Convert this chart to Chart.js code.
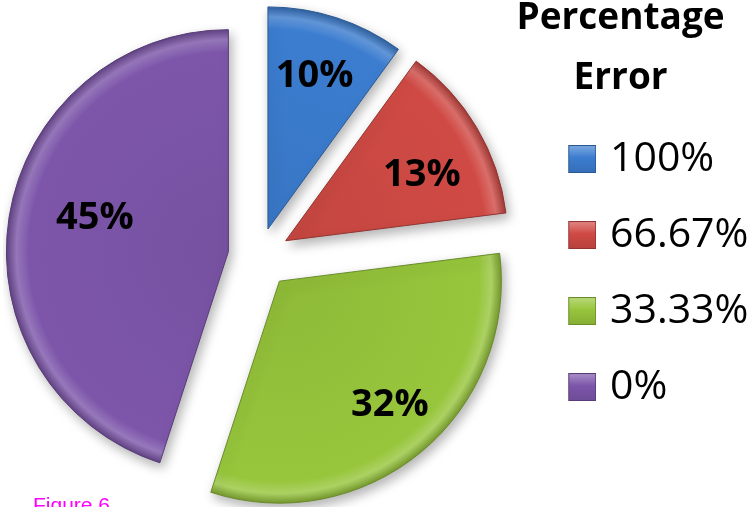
<!DOCTYPE html>
<html><head><meta charset="utf-8">
<script src="https://cdn.jsdelivr.net/npm/chart.js@4"></script>
<style>
html,body{margin:0;padding:0;background:#fff;overflow:hidden;}
#wrap{position:relative;width:755px;height:507px;overflow:hidden;background:#fff;}
#c{position:absolute;left:3px;top:0;}
</style>
</head><body><div id="wrap"><canvas id="c" width="752" height="513" style="width:752px;height:513px;"></canvas></div>
<script>
// ---- data ----
const categories = ['100%', '66.67%', '33.33%', '0%'];
const shares = [10, 13, 32, 45];
const sliceLabels = ['10%', '13%', '32%', '45%'];
const legendTitle = ['Percentage   ', 'Error   '];
const caption = 'Figure 6';

// ---- styles ----
const baseColors = ['#3c7dd0', '#d04a45', '#97c63c', '#7d56aa'];
const explode = [29, 31, 32, 31];
const labelRadiusFrac = [0.72, 0.68, 0.75, 0.62];
const labelAngleShift = [-1, 5, -2, 5];
const pieRadius = 222;

function hexToRgb(h) { const n = parseInt(h.slice(1), 16); return [(n >> 16) & 255, (n >> 8) & 255, n & 255]; }
function mix(h, target, t) {
  const c = hexToRgb(h);
  const r = c.map(v => Math.round(v + (target - v) * t));
  return `rgb(${r[0]},${r[1]},${r[2]})`;
}

function sliceFill(context) {
  const i = context.dataIndex;
  const area = context.chart.chartArea;
  const base = baseColors[i];
  if (!area) return base;
  const cx = (area.left + area.right) / 2, cy = (area.top + area.bottom) / 2;
  const g = context.chart.ctx.createRadialGradient(cx, cy, 0, cx, cy, pieRadius);
  g.addColorStop(0, mix(base, 0, 0.06));
  g.addColorStop(0.9, base);
  g.addColorStop(0.955, mix(base, 255, 0.2));
  g.addColorStop(1, mix(base, 0, 0.22));
  return g;
}

// bevelled legend marker (square sits at the right side of the marker canvas)
function legendMarker(base) {
  const cv = document.createElement('canvas');
  cv.width = 53; cv.height = 28;
  const c = cv.getContext('2d');
  const x0 = 25, s = 28;
  const g = c.createLinearGradient(0, 0, 0, s);
  g.addColorStop(0, mix(base, 255, 0.35));
  g.addColorStop(0.45, base);
  g.addColorStop(1, mix(base, 0, 0.12));
  c.fillStyle = g;
  c.fillRect(x0, 0, s, s);
  c.strokeStyle = mix(base, 0, 0.3);
  c.lineWidth = 1;
  c.strokeRect(x0 + 0.5, 0.5, s - 1, s - 1);
  return cv;
}

const explodePlugin = {
  id: 'explode',
  beforeDatasetsDraw(chart) {
    const meta = chart.getDatasetMeta(0);
    meta.data.forEach((arc, i) => {
      if (arc._exploded) return;
      arc._exploded = true;
      const orig = arc.draw;
      arc.draw = function (ctx) {
        const h = (this.startAngle + this.endAngle) / 2;
        const d = explode[i];
        ctx.save();
        ctx.translate(Math.cos(h) * d, Math.sin(h) * d);
        ctx.shadowColor = 'rgba(0,0,0,0.3)';
        ctx.shadowBlur = 12;
        ctx.shadowOffsetX = 3;
        ctx.shadowOffsetY = 5;
        orig.call(this, ctx);
        ctx.restore();
      };
    });
  },
  afterDatasetsDraw(chart) {
    const ctx = chart.ctx;
    const meta = chart.getDatasetMeta(0);
    ctx.save();
    ctx.font = 'bold 38px "Open Sans"';
    ctx.fillStyle = '#000';
    ctx.textAlign = 'center';
    ctx.textBaseline = 'middle';
    meta.data.forEach((arc, i) => {
      const h = (arc.startAngle + arc.endAngle) / 2;
      const hl = h + labelAngleShift[i] * Math.PI / 180;
      const ax = arc.x + Math.cos(h) * explode[i];
      const ay = arc.y + Math.sin(h) * explode[i];
      const r = arc.outerRadius * labelRadiusFrac[i];
      ctx.fillText(sliceLabels[i], ax + Math.cos(hl) * r, ay + Math.sin(hl) * r);
    });
    ctx.restore();
  },
  afterDraw(chart) {
    const ctx = chart.ctx;
    ctx.save();
    ctx.font = '21px "Liberation Sans"';
    ctx.fillStyle = '#ff00ff';
    ctx.textAlign = 'left';
    ctx.textBaseline = 'alphabetic';
    ctx.fillText(caption, 30, 512);
    ctx.restore();
  }
};

new Chart(document.getElementById('c'), {
  type: 'pie',
  data: {
    labels: categories,
    datasets: [{
      data: shares,
      backgroundColor: sliceFill,
      borderColor: baseColors.map(c => mix(c, 0, 0.3)),
      borderWidth: 1,
      radius: pieRadius
    }]
  },
  options: {
    responsive: false,
    maintainAspectRatio: false,
    devicePixelRatio: 1,
    animation: false,
    events: [],
    layout: { padding: 0 },
    plugins: {
      tooltip: { enabled: false },
      legend: {
        position: 'right',
        align: 'start',
        maxWidth: 240,
        title: {
          display: true,
          text: legendTitle,
          color: '#000',
          font: { family: 'Open Sans', size: 37, weight: 'bold', lineHeight: 1.622 },
          padding: { top: 0, bottom: 43.5 }
        },
        labels: {
          usePointStyle: true,
          pointStyleWidth: 39.5,
          boxHeight: 28,
          padding: 35,
          color: '#000',
          font: { family: 'Open Sans', size: 41 },
          generateLabels() {
            return categories.map((t, i) => ({
              text: t,
              fillStyle: baseColors[i],
              strokeStyle: mix(baseColors[i], 0, 0.3),
              lineWidth: 1,
              pointStyle: legendMarker(baseColors[i]),
              hidden: false,
              index: i,
              fontColor: '#000'
            }));
          }
        }
      }
    }
  },
  plugins: [explodePlugin]
});
</script>
</body></html>
